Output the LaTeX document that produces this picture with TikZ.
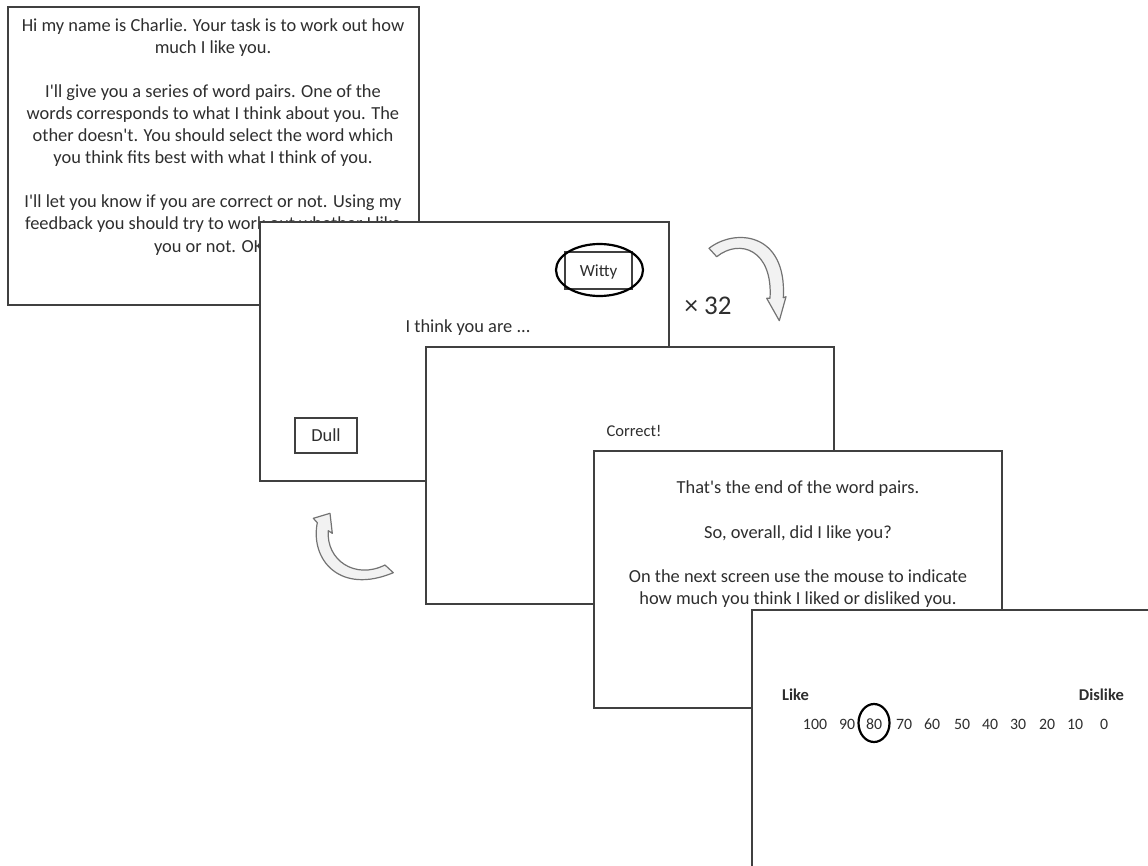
\documentclass[tikz,border=0pt]{standalone}
\usepackage{fontspec}
\setmainfont{Carlito}[Ligatures=TeXOff]
\usetikzlibrary{shapes.geometric}
\begin{document}
\begin{tikzpicture}[x=1pt,y=-1pt,
  screen/.style={draw=black!75, line width=1.8pt, fill=white, inner sep=0pt},
  txt/.style={text=black!82, inner sep=0pt, anchor=base, font=\fontsize{18.4}{22}\selectfont},
  small/.style={txt, font=\fontsize{16.5}{20}\selectfont},
  wordbox/.style={draw=black!75, line width=1.5pt, inner sep=0pt},
  pick/.style={draw=black, line width=2.2pt, inner sep=0pt},
  cyc/.style={draw=black!55, line width=1.2pt, fill=black!5, line join=round}]
\clip (0,0) rectangle (1148,865);
\useasboundingbox (0,0) rectangle (1148,865);
% screen 1
\node[screen, minimum width=411pt, minimum height=298pt] (s1) at (213.5,156) {};
\node[txt] (a1) at (213,31) {Hi my name is Charlie. Your task is to work out how};
\node[txt] (a2) at (213,53) {much I like you.};
\node[txt] (a3) at (213,97) {I'll give you a series of word pairs. One of the};
\node[txt] (a4) at (213,119.5) {words corresponds to what I think about you. The};
\node[txt] (a5) at (213,141.5) {other doesn't. You should select the word which};
\node[txt] (a6) at (213,163.5) {you think fits best with what I think of you.};
\node[txt] (a7) at (213,207.5) {I'll let you know if you are correct or not. Using my};
\node[txt] (a8) at (213,229.5) {feedback you should try to work out whether I like};
\node[txt] (a9) at (213,252) {you or not. OK?};
% screen 2
\node[screen, minimum width=409pt, minimum height=259pt] (s2) at (464.5,351.5) {};
\node[txt] (think) at (468,332) {I think you are ...};
\node[wordbox, minimum width=67pt, minimum height=37pt] (witty) at (598.5,270.5) {};
\node[txt, font=\fontsize{17}{20}\selectfont] (wittyt) at (598.5,276.5) {Witty};
\node[pick, ellipse, minimum width=87pt, minimum height=52pt] (choice) at (599.5,270) {};
\node[wordbox, minimum width=62pt, minimum height=35pt] (dull) at (326,435.5) {};
\node[txt] (dullt) at (326,441.5) {Dull};
% screen 3
\node[screen, minimum width=408pt, minimum height=257pt] (s3) at (630,475.5) {};
\node[small] (corr) at (634,436) {Correct!};
% screen 4
\node[screen, minimum width=408pt, minimum height=257pt] (s4) at (798,579.5) {};
\node[txt] (b1) at (798,493.5) {That's the end of the word pairs.};
\node[txt] (b2) at (798,538.5) {So, overall, did I like you?};
\node[txt] (b3) at (798,582.5) {On the next screen use the mouse to indicate};
\node[txt] (b4) at (798,604.5) {how much you think I liked or disliked you.};
% screen 5
\node[screen, minimum width=408pt, minimum height=257pt] (s5) at (956,738.5) {};
\node[txt, anchor=base west, font=\fontsize{16.5}{20}\selectfont\bfseries] (like) at (782,700.5) {Like};
\node[txt, anchor=base east, font=\fontsize{16.5}{20}\selectfont\bfseries] (dislike) at (1124,700.5) {Dislike};
\foreach \v/\x in {100/815,90/847,80/874,70/904,60/932,50/962,40/990,30/1018,20/1047,10/1075,0/1104}
  \node[small, font=\fontsize{15.8}{19}\selectfont] (n\v) at (\x,729.5) {\v};
\node[pick, ellipse, minimum width=31pt, minimum height=38pt] (sel) at (874,723) {};
% x 32
\node[txt, font=\fontsize{27}{30}\selectfont] (times) at (708,314) {× 32};
% cycle arrows
\path[cyc] (709,248.3) .. controls (735,228) and (787,232) .. (783.3,297.7)
  -- (786,296.7) -- (779.3,320.7) -- (766.7,298.3) -- (770,298.3)
  .. controls (773,250) and (740,238) .. (716.7,256.7) -- cycle;
\path[cyc] (393.3,572.7) .. controls (340,595) and (310,560) .. (317.3,522.7)
  -- (313.3,518.3) -- (330,513.3) -- (332.3,533.3) -- (328.3,530.7)
  .. controls (326,560) and (355,580) .. (385,565) -- cycle;
\end{tikzpicture}
\end{document}
